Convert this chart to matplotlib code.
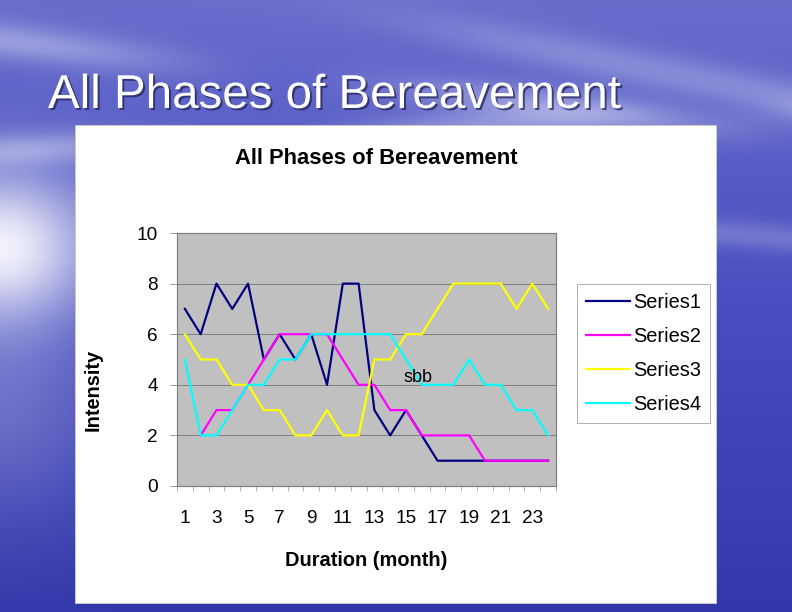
import numpy as np
import matplotlib
matplotlib.use("Agg")
import matplotlib.pyplot as plt
from matplotlib import patheffects
from matplotlib.patches import Rectangle

# ---------------- data ----------------
months = list(range(1, 25))
series1 = [7, 6, 8, 7, 8, 5, 6, 5, 6, 4, 8, 8, 3, 2, 3, 2, 1, 1, 1, 1, 1, 1, 1, 1]
series2 = [np.nan, 2, 3, 3, 4, 5, 6, 6, 6, 6, 5, 4, 4, 3, 3, 2, 2, 2, 2, 1, 1, 1, 1, 1]
series3 = [6, 5, 5, 4, 4, 3, 3, 2, 2, 3, 2, 2, 5, 5, 6, 6, 7, 8, 8, 8, 8, 7, 8, 7]
series4 = [5, 2, 2, 3, 4, 4, 5, 5, 6, 6, 6, 6, 6, 6, 5, 4, 4, 4, 5, 4, 4, 3, 3, 2]
series_names = ["Series1", "Series2", "Series3", "Series4"]
series_colors = ["#000080", "#FF00FF", "#FFFF00", "#00FFFF"]
xtick_labels = [str(m) for m in months[::2]]
slide_title = "All Phases of Bereavement"
chart_title = "All Phases of Bereavement"
x_label = "Duration (month)"
y_label = "Intensity"
note_text = "sbb"

plt.rcParams['font.family'] = ['Liberation Sans', 'DejaVu Sans']

W, H = 792, 612
fig = plt.figure(figsize=(W / 72, H / 72), dpi=72)

# ---------------- slide background ----------------
yy, xx = np.mgrid[0:H, 0:W].astype(float)
t = yy / H
top = np.array([105, 110, 205]) / 255
mid = np.array([72, 78, 192]) / 255
bot = np.array([50, 56, 170]) / 255
w_top = np.clip(1 - t / 0.5, 0, 1)[..., None]
w_bot = np.clip((t - 0.5) / 0.5, 0, 1)[..., None]
img = mid * (1 - w_top - w_bot) + top * w_top + bot * w_bot
white = np.array([1.0, 1.0, 1.0])
# soft cloud streaks in upper part
u = yy - 0.12 * xx
right = 1 / (1 + np.exp(-(xx - 450) / 60))
clouds = (0.35 * np.exp(-((u - 40) / 18) ** 2) * (0.5 + 0.5 * np.cos(xx / 90.0))
          + 0.30 * np.exp(-((yy + 0.05 * xx - 150) / 16) ** 2) * (0.5 + 0.5 * np.sin(xx / 70.0 + 1))
          + 0.25 * np.exp(-((yy - 0.2 * xx + 60) / 20) ** 2) * right
          + 0.20 * np.exp(-((yy - 0.08 * xx - 175) / 14) ** 2) * right)
# bright glow at left horizon
glow = 0.88 * np.exp(-((xx - 0) / 95) ** 2 - ((yy - 245) / 75) ** 2)
# lighter water near left bottom
water = 0.22 * np.exp(-((xx - 0) / 110) ** 2 - ((yy - 400) / 120) ** 2)
a = np.clip(clouds + glow + water, 0, 0.93)[..., None]
img = img * (1 - a) + white * a
bg = fig.add_axes([0, 0, 1, 1])
bg.imshow(img, aspect='auto', extent=[0, W, H, 0])
bg.set_xlim(0, W)
bg.set_ylim(H, 0)
bg.axis('off')

# slide title
bg.text(48, 108, slide_title, color='white', fontsize=47.5, ha='left', va='baseline',
        path_effects=[patheffects.withSimplePatchShadow(offset=(2, -2), shadow_rgbFace='#202050', alpha=0.7)])

# white chart box
bg.add_patch(Rectangle((75, 125), 641, 478, facecolor='white', edgecolor='#c8c8c8', lw=1))

# ---------------- chart ----------------
ax = fig.add_axes([177 / W, 1 - 486 / H, 379 / W, 253 / H])
ax.set_facecolor('#C0C0C0')
for y in [2, 4, 6, 8]:
    ax.axhline(y, color='#808080', lw=1, zorder=1)
lines = []
for vals, name, col in zip([series1, series2, series3, series4], series_names, series_colors):
    ln, = ax.plot(months, vals, color=col, lw=2.2, label=name, zorder=3)
    lines.append(ln)
ax.set_xlim(0.5, 24.5)
ax.set_ylim(0, 10)
ax.set_xticks(months[::2])
ax.set_xticklabels(xtick_labels, fontsize=19)
ax.set_xticks([m + 0.5 for m in range(0, 25)], minor=True)
ax.tick_params(axis='x', which='major', length=0, pad=24)
ax.tick_params(axis='x', which='minor', length=5, color='#808080', direction='out')
ax.set_yticks(range(0, 11, 2))
ax.set_yticklabels([str(v) for v in range(0, 11, 2)], fontsize=19)
ax.tick_params(axis='y', length=7, color='#808080', pad=12)
for s in ax.spines.values():
    s.set_color('#808080')
    s.set_linewidth(1.2)

# note inside plot
fig.text(418 / W, 1 - 377 / H, note_text, fontsize=18, ha='center', va='center', zorder=5)

# titles
bg.text(376, 159, chart_title, fontsize=22, fontweight='bold', ha='center', va='center')
bg.text(366, 561, x_label, fontsize=20, fontweight='bold', ha='center', va='center')
bg.text(93, 390, y_label, fontsize=20, fontweight='bold', ha='center', va='center', rotation=90)

leg = fig.legend(handles=lines, labels=series_names, loc='upper left',
                 bbox_to_anchor=(577 / W, 1 - 284 / H), fontsize=20, frameon=True,
                 fancybox=False, handlelength=2.2, handletextpad=0.15, labelspacing=0.75,
                 borderpad=0.45, borderaxespad=0)
leg.get_frame().set_edgecolor('#a0a0a0')
leg.get_frame().set_linewidth(1)

fig.savefig('out.png', dpi=72)
